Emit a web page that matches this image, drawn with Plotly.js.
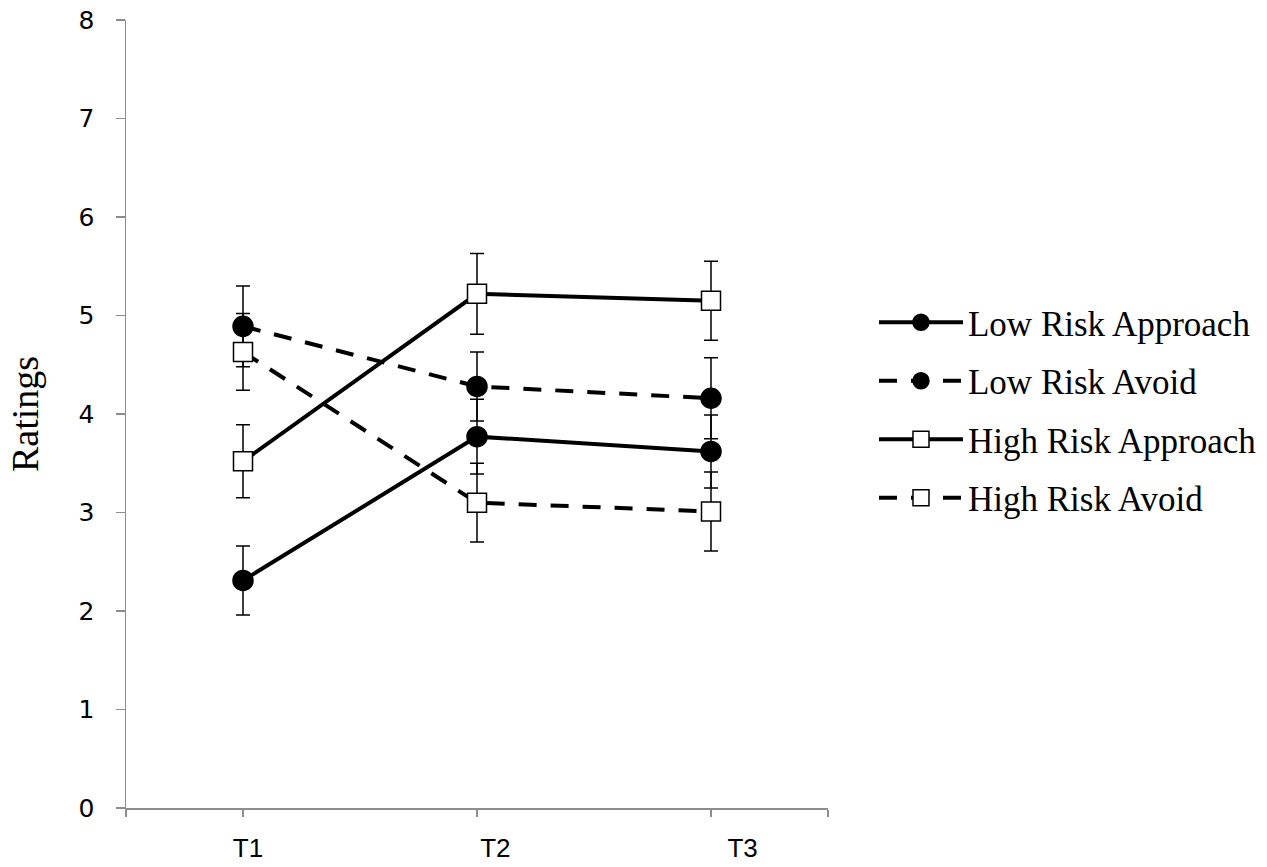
<!DOCTYPE html>
<html>
<head>
<meta charset="utf-8">
<script src="https://cdn.plot.ly/plotly-3.0.1.min.js"></script>
<style>
  html, body { margin: 0; padding: 0; background: #fff; }
  #plot { width: 1267px; height: 867px; }
</style>
</head>
<body>
<div id="plot"></div>
<script>
var times = ["T1", "T2", "T3"];

var lowApproach = [2.31, 3.77, 3.62];
var lowApproachErr = [0.35, 0.38, 0.37];

var lowAvoid = [4.89, 4.28, 4.16];
var lowAvoidErr = [0.41, 0.35, 0.41];

var highApproach = [3.52, 5.22, 5.15];
var highApproachErr = [0.37, 0.41, 0.40];

var highAvoid = [4.63, 3.10, 3.01];
var highAvoidErr = [0.39, 0.40, 0.40];

var xpos = [0, 1, 2];

function makeTrace(name, values, errs, symbol, dash) {
    var filled = symbol === "circle";
    return {
        x: xpos,
        y: values,
        name: name,
        legendgroup: name,
        type: "scatter",
        mode: "lines+markers",
        line: {color: "#000", width: 4, dash: dash},
        marker: {
            symbol: symbol,
            size: filled ? 20 : 19,
            color: filled ? "#000" : "#fff",
            line: {color: "#000", width: 1.5}
        },
        error_y: {
            type: "data",
            array: errs,
            visible: true,
            color: "#000",
            thickness: 1.5,
            width: 7
        }
    };
}

var data = [
    makeTrace("Low Risk Approach", lowApproach, lowApproachErr, "circle", "solid"),
    makeTrace("Low Risk Avoid", lowAvoid, lowAvoidErr, "circle", "18px,14px"),
    makeTrace("High Risk Approach", highApproach, highApproachErr, "square", "solid"),
    makeTrace("High Risk Avoid", highAvoid, highAvoidErr, "square", "18px,14px"),
    // invisible trace so the label axis (x2) gets drawn
    {x: xpos, y: lowApproach, xaxis: "x2", type: "scatter", mode: "markers",
     marker: {opacity: 0}, showlegend: false, hoverinfo: "skip"}
];

var layout = {
    width: 1267,
    height: 867,
    margin: {l: 126, r: 439, t: 20, b: 59, autoexpand: false},
    paper_bgcolor: "#fff",
    plot_bgcolor: "#fff",
    showlegend: true,
    legend: {
        x: 1.0655,
        y: 0.505,
        xanchor: "left",
        yanchor: "middle",
        font: {family: "Liberation Serif, Times New Roman, serif", size: 35, color: "#000"},
        itemwidth: 84,
        tracegroupgap: 10
    },
    xaxis: {
        range: [-0.5, 2.5],
        tickvals: [-0.5, 0, 1, 2, 2.5],
        showticklabels: false,
        showgrid: false,
        zeroline: false,
        showline: true,
        linecolor: "#8c8c8c",
        linewidth: 1.5,
        ticks: "outside",
        ticklen: 7,
        tickcolor: "#8c8c8c",
        tickwidth: 1.5,
        automargin: false
    },
    // the category labels sit a little right of their ticks in the original
    xaxis2: {
        overlaying: "x",
        side: "bottom",
        range: [-0.493, 2.345],
        tickvals: xpos,
        ticktext: times,
        showgrid: false,
        zeroline: false,
        showline: false,
        ticks: "",
        ticklabelstandoff: 22,
        tickfont: {family: "Liberation Sans, Arial, sans-serif", size: 26, color: "#000"},
        automargin: false
    },
    yaxis: {
        range: [0, 8],
        dtick: 1,
        showgrid: false,
        zeroline: false,
        showline: true,
        linecolor: "#8c8c8c",
        linewidth: 1.5,
        ticks: "outside",
        ticklen: 9,
        tickcolor: "#8c8c8c",
        tickwidth: 1.5,
        ticklabelstandoff: 16,
        tickfont: {family: "DejaVu Sans, sans-serif", size: 25, color: "#000"},
        title: {
            text: "Ratings",
            font: {family: "Liberation Serif, Times New Roman, serif", size: 38, color: "#000"},
            standoff: 28
        },
        automargin: false
    }
};

Plotly.newPlot("plot", data, layout, {displayModeBar: false, staticPlot: true});
</script>
</body>
</html>
